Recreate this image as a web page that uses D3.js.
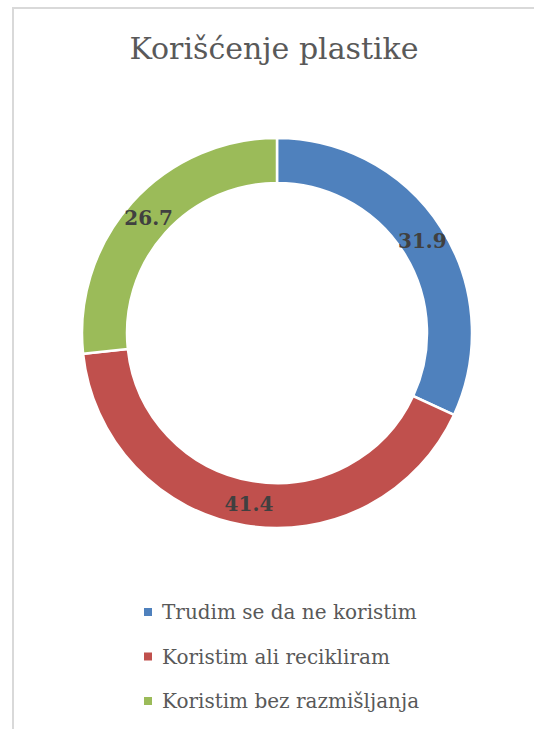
<!DOCTYPE html>
<html lang="en">
<head>
    <meta charset="UTF-8">
    <title>Korišćenje plastike</title>
    <script src="https://d3js.org/d3.v7.min.js"></script>
    <style>
        body { margin: 0; background: #fff; }
        svg text { font-family: "DejaVu Serif", serif; }
    </style>
</head>
<body>
    <div id="chart"></div>
    <script>
        // data
        const categories = ["Trudim se da ne koristim", "Koristim ali recikliram", "Koristim bez razmišljanja"];
        const values = [31.9, 41.4, 26.7];
        const colors = ["#4f81bd", "#c0504d", "#9bbb59"];
        const chartTitle = "Korišćenje plastike";

        const width = 534, height = 729;
        const cx = 277, cy = 333;
        const outerR = 195, innerR = 150;

        const svg = d3.select("#chart")
            .append("svg")
            .attr("width", width)
            .attr("height", height);

        // chart area frame (cropped at right and bottom)
        svg.append("rect")
            .attr("x", 13)
            .attr("y", 8)
            .attr("width", width + 20)
            .attr("height", height + 20)
            .style("fill", "none")
            .style("stroke", "#d9d9d9")
            .style("stroke-width", 2);

        // title
        svg.append("text")
            .attr("x", 274)
            .attr("y", 59)
            .attr("text-anchor", "middle")
            .style("font-size", "30px")
            .style("fill", "#595959")
            .text(chartTitle);

        const pie = d3.pie().sort(null).value(d => d);
        const arc = d3.arc().innerRadius(innerR).outerRadius(outerR);

        const g = svg.append("g")
            .attr("transform", "translate(" + cx + "," + cy + ")");

        const slices = pie(values);

        g.selectAll("path")
            .data(slices)
            .enter()
            .append("path")
            .attr("d", arc)
            .style("fill", (d, i) => colors[i])
            .style("stroke", "#fff")
            .style("stroke-width", 2.5);

        // value labels at centroids
        g.selectAll(".label")
            .data(slices)
            .enter()
            .append("text")
            .attr("class", "label")
            .attr("transform", d => "translate(" + arc.centroid(d) + ")")
            .attr("text-anchor", "middle")
            .attr("dy", "0.38em")
            .style("font-size", "20px")
            .style("font-weight", "bold")
            .style("fill", "#404040")
            .text(d => d.data.toFixed(1));

        // legend
        const legendY = d3.scalePoint()
            .domain(categories)
            .range([612, 701]);

        const legend = svg.selectAll(".legend")
            .data(categories)
            .enter()
            .append("g")
            .attr("class", "legend")
            .attr("transform", d => "translate(144," + legendY(d) + ")");

        legend.append("rect")
            .attr("x", 0)
            .attr("y", -4)
            .attr("width", 8)
            .attr("height", 8)
            .style("fill", (d, i) => colors[i]);

        legend.append("text")
            .attr("x", 18)
            .attr("y", 7)
            .style("font-size", "20px")
            .style("fill", "#595959")
            .text(d => d);
    </script>
</body>
</html>
